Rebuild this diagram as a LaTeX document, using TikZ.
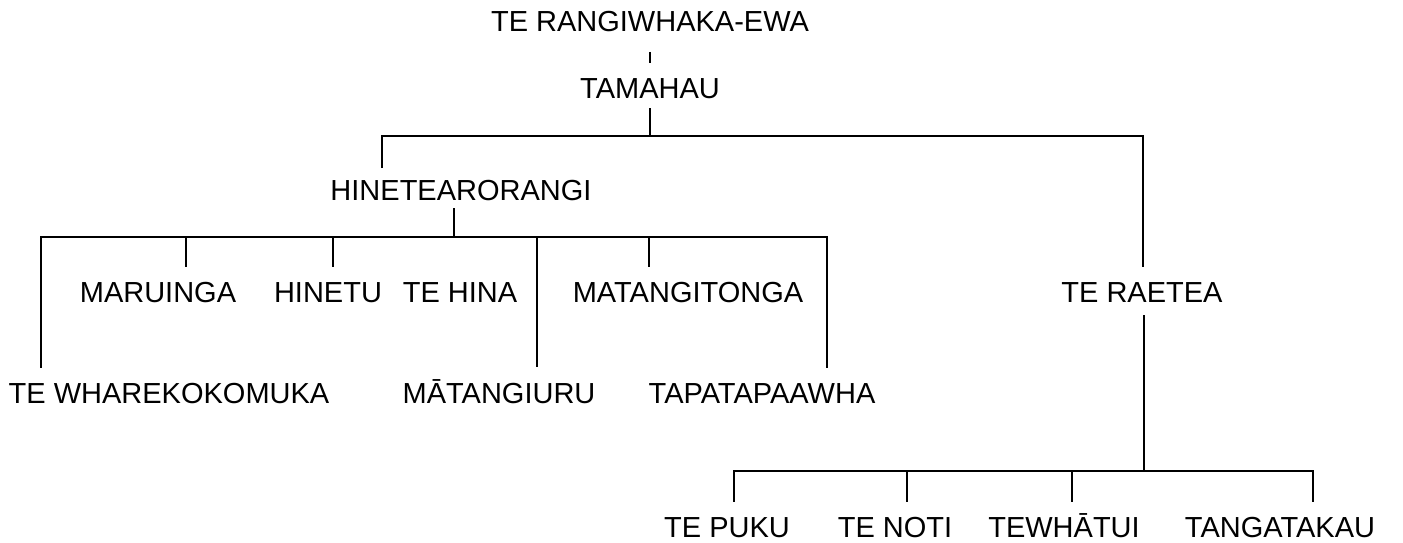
\documentclass[tikz,border=0pt]{standalone}
\usepackage{fontspec}
\setmainfont{Liberation Sans}
\begin{document}
\begin{tikzpicture}[x=1pt,y=-1pt,
  lbl/.style={anchor=base, inner sep=0pt, font=\fontsize{29}{34}\selectfont, text height=21pt, text depth=0pt},
  conn/.style={line width=2.4pt}]
\useasboundingbox (0,0) rectangle (1403,543);
% names
\node[lbl] (rw) at (650,32) {TE RANGIWHAKA-EWA};
\node[lbl] (tam) at (650,98) {TAMAHAU};
\node[lbl] (hine) at (461,200) {HINETEARORANGI};
\node[lbl] (maru) at (158,302) {MARUINGA};
\node[lbl] (hinetu) at (328,302) {HINETU};
\node[lbl] (tehina) at (460,302) {TE HINA};
\node[lbl] (matto) at (688,302) {MATANGITONGA};
\node[lbl] (rae) at (1142,302) {TE RAETEA};
\node[lbl] (whare) at (169,403) {TE WHAREKOKOMUKA};
\node[lbl] (matiu) at (499,403) {MĀTANGIURU};
\node[lbl] (tapa) at (762,403) {TAPATAPAAWHA};
\node[lbl] (puku) at (727,537) {TE PUKU};
\node[lbl] (noti) at (895,537) {TE NOTI};
\node[lbl] (whatui) at (1064,537) {TEWHĀTUI};
\node[lbl] (tanga) at (1280,537) {TANGATAKAU};
% junctions
\coordinate (b1) at (650,136);
\coordinate (b2) at (454,237);
\coordinate (b3) at (1144,471);
\coordinate (hl) at (382,168);
% connectors
\draw[conn] ([yshift=-20pt]rw.base) -- ([yshift=14pt]tam.north);
\draw[conn] ([yshift=-10pt]tam.base) -- (b1);
\draw[conn] (hl) |- (b1) -| ([xshift=1pt,yshift=14pt]rae.north);
\draw[conn] ([xshift=-7pt,yshift=-8pt]hine.base) -- (b2);
\draw[conn] ([xshift=-128pt,yshift=14pt]whare.north) |- (b2) -| ([xshift=65pt,yshift=14pt]tapa.north);
\draw[conn] ([xshift=28pt,yshift=14pt]maru.north) -- ++(0,-30);
\draw[conn] ([xshift=5pt,yshift=14pt]hinetu.north) -- ++(0,-30);
\draw[conn] ([xshift=-39pt,yshift=14pt]matto.north) -- ++(0,-30);
\draw[conn] ([xshift=38pt,yshift=15pt]matiu.north) -- ++(0,-130);
\draw[conn] ([xshift=2pt,yshift=-13pt]rae.base) -- (b3);
\draw[conn] ([xshift=7pt,yshift=14pt]puku.north) |- (b3) -| ([xshift=33pt,yshift=14pt]tanga.north);
\draw[conn] ([xshift=12pt,yshift=14pt]noti.north) -- ++(0,-31);
\draw[conn] ([xshift=8pt,yshift=14pt]whatui.north) -- ++(0,-31);
\end{tikzpicture}
\end{document}
